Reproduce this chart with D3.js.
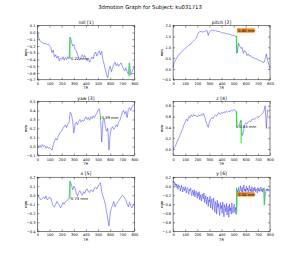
<!DOCTYPE html>
<html><head><meta charset="utf-8">
<script src="https://cdn.jsdelivr.net/npm/d3@7"></script>
<style>body{margin:0;background:#fff}svg{display:block}text{font-family:"DejaVu Sans",sans-serif;fill:#000}</style>
</head><body><svg id="c" width="300" height="257"></svg>
<script>
const chartTitle = "3dmotion Graph for Subject: ku031713";
const panelTitles = ["roll [1]", "pitch [2]", "yaw [3]", "z [4]", "x [5]", "y [6]"];
const xTicks = [0,100,200,300,400,500,600,700,800];
const yTicksList = [
  [0.1,0,-0.1,-0.2,-0.3,-0.4,-0.5,-0.6,-0.7],
  [2.0,1.5,1.0,0.5,0.0,-0.5],
  [0.5,0.4,0.3,0.2,0.1,0.0,-0.1],
  [0.8,0.6,0.4,0.2,0.0],
  [0.2,0.1,0.0,-0.1,-0.2,-0.3,-0.4],
  [0.2,0.0,-0.2,-0.4,-0.6,-0.8,-1.0]
];
const yDomains = [[-0.7,0.1],[-0.5,2.0],[-0.1,0.5],[-0.12,0.88],[-0.4,0.2],[-1.0,0.2]];

// series sampled every 10 TR (0..800)
const roll = [0.02,-0.08,-0.12,-0.14,-0.15,-0.16,-0.17,-0.16,-0.18,-0.17,
 -0.2,-0.22,-0.3,-0.26,-0.36,-0.33,-0.38,-0.35,-0.42,-0.38,
 -0.4,-0.36,-0.41,-0.37,-0.4,-0.36,-0.39,-0.07,-0.13,-0.2,
 -0.18,-0.25,-0.27,-0.33,-0.37,-0.41,-0.36,-0.33,-0.37,-0.34,
 -0.38,-0.42,-0.38,-0.44,-0.4,-0.36,-0.39,-0.32,-0.29,-0.35,
 -0.3,-0.27,-0.33,-0.28,-0.4,-0.47,-0.55,-0.62,-0.67,-0.55,
 -0.5,-0.58,-0.52,-0.47,-0.44,-0.49,-0.46,-0.5,-0.47,-0.45,
 -0.5,-0.54,-0.57,-0.52,-0.58,-0.62,-0.45,-0.63,-0.58,-0.54,-0.51];
const pitch = [0.05,0.3,0.42,0.5,0.6,0.68,0.72,0.8,0.85,0.9,
 0.95,1.0,1.05,1.1,1.12,1.2,1.25,1.3,1.36,1.42,
 1.55,1.68,1.72,1.74,1.7,1.73,1.72,1.76,1.78,1.55,
 1.72,1.76,1.8,1.78,1.76,1.79,1.75,1.73,1.74,1.7,
 1.69,1.66,1.68,1.64,1.63,1.62,1.6,1.61,1.57,1.55,
 1.56,1.53,1.52,0.75,1.2,1.05,0.95,1.0,0.72,0.85,
 0.78,0.62,0.7,0.6,0.62,0.55,0.52,0.5,0.48,0.45,
 0.44,0.4,0.37,0.35,0.32,0.3,0.45,0.7,0.4,0.2,0.02];
const yaw = [0.02,-0.01,0.01,-0.01,0.02,0.0,0.01,-0.02,0.0,-0.02,
 -0.01,-0.03,-0.04,0.02,0.06,0.09,0.07,0.11,0.14,0.16,
 0.17,0.2,0.22,0.24,0.21,0.25,0.26,0.38,0.36,0.28,
 0.15,0.25,0.27,0.24,0.28,0.3,0.27,0.29,0.28,0.31,
 0.33,0.3,0.32,0.29,0.33,0.31,0.34,0.32,0.35,0.37,
 0.4,0.42,0.33,0.05,0.28,0.31,0.22,0.17,0.2,-0.04,
 0.14,0.2,0.22,0.19,0.21,0.24,0.22,0.27,0.29,0.33,
 0.38,0.4,0.36,0.39,0.32,0.41,0.43,0.4,0.44,0.46,0.47];
const zVals = [0.0,0.03,0.06,0.12,0.17,0.22,0.27,0.33,0.38,0.45,
 0.5,0.55,0.52,0.6,0.58,0.63,0.6,0.64,0.61,0.62,
 0.59,0.63,0.61,0.64,0.62,0.66,0.6,0.52,0.45,0.4,
 0.5,0.55,0.58,0.56,0.6,0.63,0.61,0.65,0.67,0.64,
 0.68,0.66,0.69,0.67,0.7,0.68,0.7,0.69,0.72,0.7,
 0.73,0.72,0.7,0.39,0.42,0.47,0.53,0.25,0.3,0.45,
 0.48,0.46,0.5,0.52,0.5,0.55,0.56,0.54,0.57,0.58,
 0.6,0.59,0.62,0.64,0.66,0.7,0.8,0.38,0.72,0.7,0.72];
const xVals = [0.02,-0.02,-0.04,-0.05,-0.03,-0.02,-0.04,-0.01,-0.05,-0.04,
 -0.02,-0.03,-0.08,-0.12,-0.13,-0.1,-0.07,-0.09,-0.11,-0.14,
 -0.12,-0.08,-0.1,-0.07,-0.06,-0.05,-0.04,0.15,0.12,0.06,
 0.1,0.08,0.02,-0.01,0.03,0.05,0.02,0.0,0.04,0.02,
 0.06,0.07,0.04,0.03,0.06,0.05,0.04,0.08,0.09,0.07,
 0.1,0.12,0.14,0.04,-0.01,-0.05,-0.1,-0.18,-0.26,-0.34,
 -0.2,-0.14,-0.11,-0.07,-0.13,-0.1,-0.08,-0.06,-0.04,-0.02,
 0.0,-0.01,-0.03,-0.05,-0.1,-0.13,-0.08,-0.12,-0.14,-0.11,-0.1];
// y sampled every 5 TR (0..800)
const yVals = [0.12,0.08,0.1,0.02,0.06,-0.03,0.05,0.01,-0.07,0.03,-0.02,0.0,-0.11,-0.04,0.02,-0.06,-0.13,-0.02,-0.05,-0.1,-0.01,
 -0.08,-0.15,-0.06,-0.03,-0.12,-0.18,-0.07,-0.1,-0.04,-0.16,-0.21,-0.09,-0.13,-0.2,-0.08,-0.24,-0.15,-0.11,-0.19,-0.27,
 -0.14,-0.22,-0.12,-0.3,-0.19,-0.25,-0.33,-0.17,-0.23,-0.28,-0.15,-0.36,-0.26,-0.21,-0.4,-0.29,-0.24,-0.45,-0.3,-0.35,
 -0.22,-0.48,-0.33,-0.28,-0.52,-0.38,-0.26,-0.44,-0.58,-0.34,-0.4,-0.62,-0.31,-0.47,-0.39,-0.55,-0.65,-0.36,-0.5,-0.43,
 -0.6,-0.35,-0.52,-0.68,-0.41,-0.47,-0.57,-0.38,-0.64,-0.5,-0.44,-0.69,-0.4,-0.55,-0.48,-0.62,-0.37,-0.53,-0.6,-0.45,
 -0.4,-0.58,-0.47,-0.62,-0.55,-0.08,-0.14,-0.03,-0.1,-0.17,0.01,-0.07,-0.12,-0.02,-0.15,-0.05,0.03,-0.11,-0.06,-0.13,
 0.0,-0.09,-0.04,-0.15,-0.07,0.02,-0.11,-0.06,-0.13,-0.01,-0.08,-0.14,-0.04,-0.1,-0.02,-0.12,-0.06,-0.09,-0.15,-0.03,
 -0.1,-0.05,-0.12,-0.07,-0.02,-0.11,-0.06,-0.13,-0.04,-0.09,-0.4,-0.22,-0.12,-0.06,-0.1,-0.05,-0.11,-0.07,-0.09,-0.08];
const seriesList = [roll, pitch, yaw, zVals, xVals, yVals];
const stepList = [10,10,10,10,10,5];

// green spike markers
const spikePanel = [0,0,1,2,3,3,4,5,5];
const spikeTR    = [268,757,524,520,524,562,268,524,752];
const spikeFrom  = [-0.38,-0.45,1.52,0.30,0.70,0.53,-0.04,-0.03,-0.03];
const spikeTo    = [-0.07,-0.65,0.71,0.34,0.39,0.11,0.16,-0.63,-0.42];
// annotation labels
const notePanel = [0,1,2,3,4,5];
const noteTR    = [275,536,528,545,275,536];
const noteY     = [-0.38,1.76,0.32,0.42,-0.04,-0.19];
const noteText  = ["0.22 mm","0.80 mm","0.39 mm","0.83 mm","0.73 mm","0.58 mm"];
const noteBox   = [false,true,false,false,false,true];

const svg = d3.select("#c");
svg.append("text").attr("x",150).attr("y",9).attr("text-anchor","middle")
  .style("font-size","5.3px").text(chartTitle);

const colX = [37.5, 173.1], W = 96.9;
const rowY = [25.7, 101.4, 177.2], H = 54.1;
const fmt = d3.format(".1f");

panelTitles.forEach((t, i) => {
  const x0 = colX[i % 2], y0 = rowY[Math.floor(i / 2)];
  const g = svg.append("g").attr("transform", `translate(${x0},${y0})`);
  const xs = d3.scaleLinear().domain([0, 800]).range([0, W]);
  const ys = d3.scaleLinear().domain(yDomains[i]).range([H, 0]);
  const data = seriesList[i].map((v, k) => [k * stepList[i], v]);

  g.append("path").datum(data)
    .attr("fill","none").attr("stroke","#2a2aff").attr("stroke-width",0.6)
    .attr("stroke-opacity",0.8).attr("stroke-linejoin","round")
    .attr("d", d3.line().x(d => xs(d[0])).y(d => ys(d[1])));

  spikePanel.forEach((p, k) => {
    if (p !== i) return;
    g.append("line").attr("x1", xs(spikeTR[k])).attr("x2", xs(spikeTR[k]))
      .attr("y1", ys(spikeFrom[k])).attr("y2", ys(spikeTo[k]))
      .attr("stroke","#22ee22").attr("stroke-width",1.1);
  });
  notePanel.forEach((p, k) => {
    if (p !== i) return;
    const tx = xs(noteTR[k]), ty = ys(noteY[k]);
    if (noteBox[k]) {
      g.append("rect").attr("x", tx - 1).attr("y", ty - 2.6).attr("width", 17.5).attr("height", 4.4)
        .attr("fill","#f08a1c");
    }
    g.append("text").attr("x", tx).attr("y", ty + 1.4).style("font-size","3.8px").text(noteText[k]);
  });

  g.append("rect").attr("width", W).attr("height", H).attr("fill","none")
    .attr("stroke","#000").attr("stroke-width",0.5);

  const xa = d3.axisBottom(xs).tickValues(xTicks).tickSize(-2).tickPadding(2.5).tickFormat(d3.format("d"));
  const gx = g.append("g").attr("transform", `translate(0,${H})`).call(xa);
  const xt = d3.axisTop(xs).tickValues(xTicks).tickSize(-2).tickFormat("");
  const gxt = g.append("g").call(xt);
  const ya = d3.axisLeft(ys).tickValues(yTicksList[i]).tickSize(-2).tickPadding(2).tickFormat(d => fmt(d).replace("-", "\u2212"));
  const gy = g.append("g").call(ya);
  const yr = d3.axisRight(ys).tickValues(yTicksList[i]).tickSize(-2).tickFormat("");
  const gyr = g.append("g").attr("transform", `translate(${W},0)`).call(yr);
  [gx, gxt, gy, gyr].forEach(a => {
    a.select(".domain").remove();
    a.selectAll("line").attr("stroke","#000").attr("stroke-width",0.4);
    a.selectAll("text").style("font-size","3.6px").attr("fill","#000").style("font-family","'DejaVu Sans',sans-serif");
  });

  g.append("text").attr("x", W / 2).attr("y", -1.8).attr("text-anchor","middle")
    .style("font-size","4.6px").text(t);
  g.append("text").attr("x", W / 2).attr("y", H + 9.6).attr("text-anchor","middle")
    .style("font-size","3.6px").text("TR");
  g.append("text").attr("transform", `translate(-10.5,${H / 2}) rotate(-90)`).attr("text-anchor","middle")
    .style("font-size","3.6px").text("mm");
});
</script>
</body></html>
